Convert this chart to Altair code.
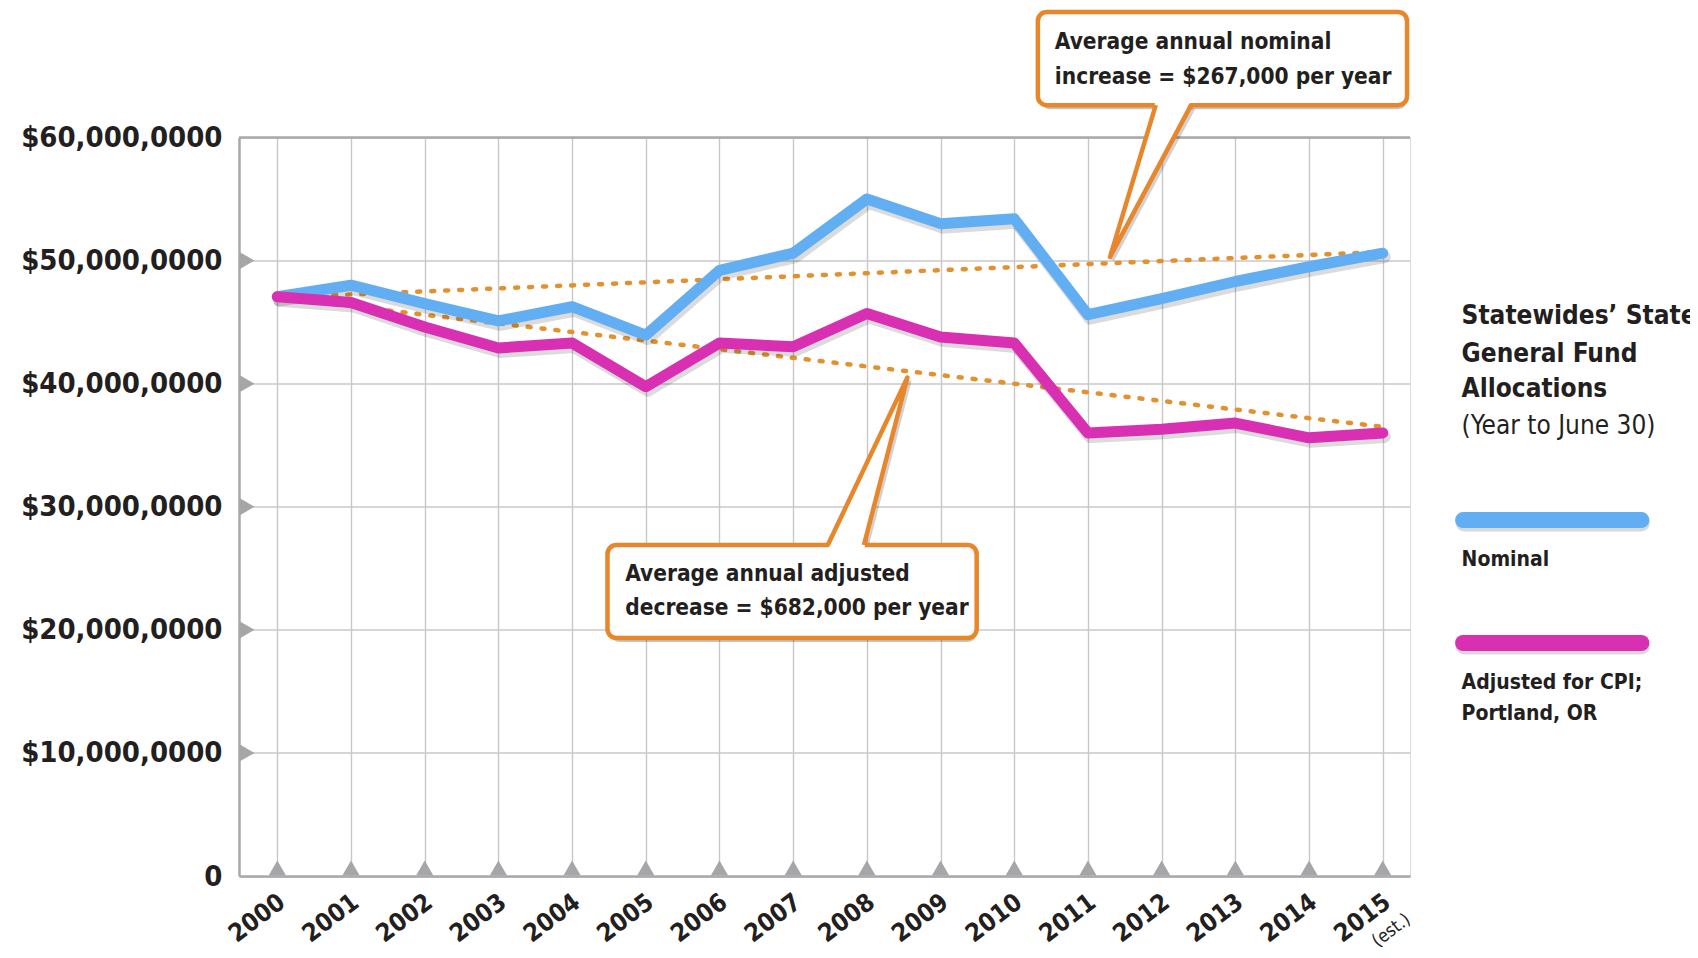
import altair as alt
import pandas as pd

# ---------------- data (values in $ millions) ----------------
years = list(range(2000, 2016))
nominal = [47.07, 48.0, 46.5, 45.1, 46.25, 43.95, 49.2, 50.6, 55.0, 53.0, 53.4, 45.6, 46.9, 48.3, 49.5, 50.6]
adjusted = [47.07, 46.6, 44.6, 42.9, 43.3, 39.75, 43.3, 43.0, 45.7, 43.8, 43.3, 36.0, 36.3, 36.8, 35.6, 36.0]
trend_years = [2000, 2015]
trend_nominal = [47.0, 50.7]
trend_adjusted = [47.0, 36.5]
y_ticks = [0, 10, 20, 30, 40, 50, 60]
series_names = ["Nominal", "Adjusted"]
series_colors = ["#62AEF3", "#D92FB3"]

callout_nominal_text = ["Average annual nominal", "increase = $267,000 per year"]
callout_adjusted_text = ["Average annual adjusted", "decrease = $682,000 per year"]
legend_title_bold = ["Statewides\u2019 State", "General Fund", "Allocations"]
legend_title_sub = ["(Year to June 30)"]
legend_label_nominal = ["Nominal"]
legend_label_adjusted = ["Adjusted for CPI;", "Portland, OR"]

FONT = "DejaVu Sans Condensed, DejaVu Sans, sans-serif"
TXT = "#231f20"
ORANGE = "#E8862B"
GRID = "#c8c8c8"
FRAME = "#a9a9ab"

XMIN, XMAX = 1999.48, 2015.37
xscale = alt.Scale(domain=[XMIN, XMAX], nice=False, zero=False)
yscale = alt.Scale(domain=[0, 60], nice=False, zero=False)

xaxis = alt.Axis(
    values=years, format="d", labelAngle=-37, labelAlign="right", labelBaseline="top",
    labelPadding=13, labelOffset=-3, labelFont=FONT, labelFontSize=25, labelFontWeight="bold",
    labelColor=TXT, tickSize=0, domainColor=FRAME, domainWidth=2.5, grid=True,
    gridColor=GRID, gridWidth=1.4, title=None, labelFlush=False, labelOverlap=False, labelLimit=0,
)
yaxis = alt.Axis(
    values=y_ticks, labelExpr="datum.value == 0 ? '0' : '$' + datum.value + ',000,0000'",
    labelFont=FONT, labelFontSize=29, labelFontWeight="bold", labelColor=TXT,
    labelPadding=17, tickSize=0, domainColor=FRAME, domainWidth=2.5, grid=True,
    gridColor=GRID, gridWidth=1.4, title=None, labelFlush=False, labelOverlap=False, labelLimit=0,
)


def X(f):
    return alt.X(f, type="quantitative", scale=xscale, axis=xaxis)


def Y(f):
    return alt.Y(f, type="quantitative", scale=yscale, axis=yaxis)


lines_df = pd.DataFrame(
    {
        "year": years * 2,
        "value": nominal + adjusted,
        "series": ["Nominal"] * len(years) + ["Adjusted"] * len(years),
    }
)
trend_df = pd.DataFrame(
    {
        "year": trend_years * 2,
        "value": trend_nominal + trend_adjusted,
        "series": ["Nominal", "Nominal", "Adjusted", "Adjusted"],
    }
)

color = alt.Color("series:N", scale=alt.Scale(domain=series_names, range=series_colors), legend=None)

# top frame line
top_frame = alt.Chart(pd.DataFrame({"a": [XMIN], "b": [XMAX], "v": [60]})).mark_rule(
    color=FRAME, strokeWidth=2.5
).encode(x=X("a"), x2="b", y=Y("v"))

# tick triangles
tri_bottom = alt.Chart(pd.DataFrame({"year": years, "v": [0] * len(years)})).mark_point(
    shape="triangle-up", filled=True, color="#a6a6a8", opacity=1, size=300, yOffset=-8
).encode(x=X("year"), y=Y("v"))
tri_left = alt.Chart(pd.DataFrame({"x": [XMIN] * 5, "v": y_ticks[1:6]})).mark_point(
    shape="triangle-right", filled=True, color="#a6a6a8", opacity=1, size=300, xOffset=8
).encode(x=X("x"), y=Y("v"))

trend = alt.Chart(trend_df).mark_line(
    strokeDash=[3, 11], strokeCap="round", strokeWidth=4.5, color="#E3912F"
).encode(x=X("year"), y=Y("value"), detail="series:N")

shadow = alt.Chart(lines_df).mark_line(
    strokeWidth=12, strokeCap="round", strokeJoin="round", color="#000000", opacity=0.14,
    xOffset=2, yOffset=4,
).encode(x=X("year"), y=Y("value"), detail="series:N")

lines = alt.Chart(lines_df).mark_line(
    strokeWidth=11, strokeCap="round", strokeJoin="round"
).encode(x=X("year"), y=Y("value"), color=color)

# ---------------- legend (placed in data space to the right) ----------------
LX = 2016.07
leg_title = alt.Chart(pd.DataFrame({"x": [LX] * 3, "v": [45.5, 42.45, 39.6], "t": legend_title_bold})).mark_text(
    font=FONT, fontSize=26, fontWeight="bold", color=TXT, align="left", baseline="middle"
).encode(x=X("x"), y=Y("v"), text="t:N")
leg_sub = alt.Chart(pd.DataFrame({"x": [LX], "v": [36.6], "t": legend_title_sub})).mark_text(
    font=FONT, fontSize=26, fontWeight="normal", color=TXT, align="left", baseline="middle"
).encode(x=X("x"), y=Y("v"), text="t:N")
sw_df = pd.DataFrame({"a": [2016.09, 2016.09], "b": [2018.51, 2018.51], "v": [28.92, 18.93], "series": series_names})
sw_shadow = alt.Chart(sw_df).mark_rule(strokeWidth=17, strokeCap="round", color="#000", opacity=0.15, xOffset=1, yOffset=3).encode(
    x=X("a"), x2="b", y=Y("v"))
swatch = alt.Chart(sw_df).mark_rule(strokeWidth=16, strokeCap="round").encode(x=X("a"), x2="b", y=Y("v"), color=color)
leg_labels = alt.Chart(pd.DataFrame({"x": [LX] * 3, "v": [25.7, 15.68, 13.16], "t": legend_label_nominal + legend_label_adjusted})).mark_text(
    font=FONT, fontSize=21, fontWeight="bold", color=TXT, align="left", baseline="middle"
).encode(x=X("x"), y=Y("v"), text="t:N")

# "(est.)" under 2015
est = alt.Chart(pd.DataFrame({"x": [2015.12], "v": [-4.45], "t": ["(est.)"]})).mark_text(
    font=FONT, fontSize=18, color=TXT, angle=323, align="center", baseline="middle"
).encode(x=X("x"), y=Y("v"), text="t:N")


# ---------------- callouts ----------------
def callout(box, tail_base, tip, inside, text_x, text_v, texts):
    x1, x2, v1, v2 = box
    bl, br, bv = tail_base
    tx, tv = tip
    bdf = pd.DataFrame({"a": [x1], "b": [x2], "c": [v1], "d": [v2]})
    box_shadow = alt.Chart(bdf).mark_rect(cornerRadius=9, color="#000", opacity=0.22, xOffset=3, yOffset=4).encode(
        x=X("a"), x2="b", y=Y("c"), y2="d")
    box_mark = alt.Chart(bdf).mark_rect(cornerRadius=9, fill="white", stroke=ORANGE, strokeWidth=4.5).encode(
        x=X("a"), x2="b", y=Y("c"), y2="d")
    tail_fill = alt.Chart(pd.DataFrame({"v": [inside, tv], "l": [bl, tx], "r": [br, tx]})).mark_area(
        orient="horizontal", color="white", opacity=1
    ).encode(y=Y("v"), x=X("l"), x2="r")
    tail_shadow = alt.Chart(pd.DataFrame({"x": [bl, tx, br], "v": [bv, tv, bv], "o": [0, 1, 2]})).mark_line(
        color="#000", opacity=0.18, strokeWidth=4.5, xOffset=2, yOffset=3
    ).encode(x=X("x"), y=Y("v"), order="o:Q")
    tail_line = alt.Chart(pd.DataFrame({"x": [bl, tx, br], "v": [bv, tv, bv], "o": [0, 1, 2]})).mark_line(
        color=ORANGE, strokeWidth=4.5, strokeJoin="round"
    ).encode(x=X("x"), y=Y("v"), order="o:Q")
    txt = alt.Chart(pd.DataFrame({"x": [text_x] * len(texts), "v": text_v, "t": texts})).mark_text(
        font=FONT, fontSize=22.5, fontWeight="bold", color=TXT, align="left", baseline="middle"
    ).encode(x=X("x"), y=Y("v"), text="t:N")
    return [box_shadow, tail_shadow, box_mark, tail_fill, tail_line, txt]


c1 = callout((2010.32, 2015.33, 62.63, 70.19), (2011.92, 2012.40, 62.63), (2011.30, 50.3), 63.0,
             2010.55, [67.75, 64.95], callout_nominal_text)
c2 = callout((2004.48, 2009.49, 19.33, 26.89), (2007.47, 2007.96, 26.89), (2008.55, 40.5), 26.5,
             2004.72, [24.55, 21.77], callout_adjusted_text)

chart = alt.layer(
    top_frame, tri_bottom, tri_left, trend, shadow, lines,
    sw_shadow, swatch, leg_title, leg_sub, leg_labels, est, *c1, *c2,
).properties(
    width=1171, height=738.5,
    autosize=alt.AutoSizeParams(type="none"),
    padding={"left": 231, "top": 129.5, "right": 280, "bottom": 72},
).configure_view(stroke=None).configure(background="white")

chart.save("out.html", embed_options={"renderer": "svg", "actions": False})
